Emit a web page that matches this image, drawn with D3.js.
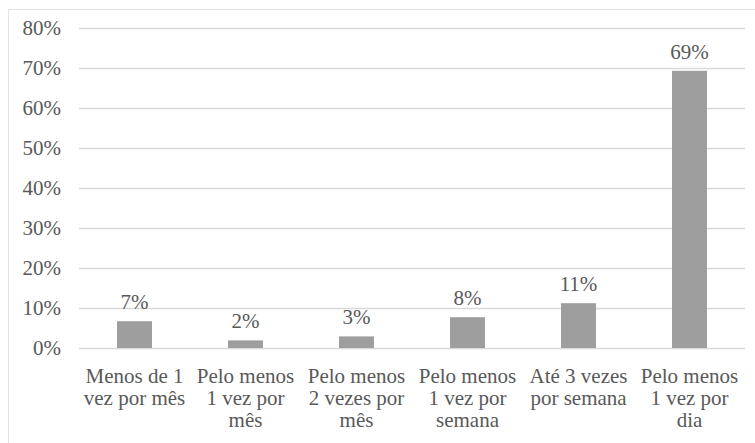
<!DOCTYPE html>
<html>
<head>
<meta charset="utf-8">
<script src="https://cdn.jsdelivr.net/npm/d3@7"></script>
<style>
  body { margin: 0; background: #fff; }
</style>
</head>
<body>
<div id="chart"></div>
<script>
// categorias (quebra de linha com \n, como no gráfico original)
const categories = [
  "Menos de 1\nvez por mês",
  "Pelo menos\n1 vez por\nmês",
  "Pelo menos\n2 vezes por\nmês",
  "Pelo menos\n1 vez por\nsemana",
  "Até 3 vezes\npor semana",
  "Pelo menos\n1 vez por\ndia"
];
const values = [6.7, 1.9, 2.9, 7.7, 11.2, 69.3];
const valueLabels = ["7%", "2%", "3%", "8%", "11%", "69%"];
const yTicks = [0, 10, 20, 30, 40, 50, 60, 70, 80];

const FONT = "'Liberation Serif', 'Times New Roman', serif";
const TXT = "#595959";
const width = 755, height = 443;
const margin = {top: 28, right: 10, bottom: 95, left: 79};

const svg = d3.select("#chart").append("svg")
    .attr("width", width)
    .attr("height", height)
    .style("font-family", FONT);

// moldura clara do gráfico
svg.append("rect")
    .attr("x", 8.5).attr("y", 9.5)
    .attr("width", width).attr("height", height)
    .style("fill", "none")
    .style("stroke", "#e3e3e3");

const x = d3.scaleBand()
    .domain(d3.range(categories.length))
    .range([margin.left, width - margin.right])
    .paddingInner(0.685)
    .paddingOuter(0.3425);

const y = d3.scaleLinear()
    .domain([0, 80])
    .range([height - margin.bottom, margin.top]);

// linhas de grade
svg.append("g")
  .selectAll("line")
  .data(yTicks)
  .join("line")
    .attr("x1", margin.left)
    .attr("x2", width - margin.right)
    .attr("y1", d => Math.round(y(d)) + 0.5)
    .attr("y2", d => Math.round(y(d)) + 0.5)
    .style("stroke", "#d9d9d9")
    .style("stroke-width", 1.3);

// eixo Y (só os rótulos)
const yAxis = d3.axisLeft(y)
    .tickValues(yTicks)
    .tickFormat(d => d + "%")
    .tickSize(0)
    .tickPadding(18);

svg.append("g")
    .attr("transform", "translate(" + margin.left + ",0)")
    .call(yAxis)
    .attr("font-family", null)
    .attr("font-size", null)
    .call(g => g.select(".domain").remove())
    .call(g => g.selectAll("text")
        .style("font-family", FONT)
        .style("font-size", "21px")
        .style("fill", TXT));

// barras
svg.append("g")
  .selectAll("rect")
  .data(values)
  .join("rect")
    .attr("x", (d, i) => x(i))
    .attr("width", x.bandwidth())
    .attr("y", d => y(d))
    .attr("height", d => y(0) - y(d))
    .style("fill", "#9e9e9e");

// rótulos de valor
svg.append("g")
  .selectAll("text")
  .data(values)
  .join("text")
    .attr("x", (d, i) => x(i) + x.bandwidth() / 2)
    .attr("y", d => y(d) - 12)
    .attr("text-anchor", "middle")
    .style("font-family", FONT)
    .style("font-size", "21px")
    .style("fill", TXT)
    .text((d, i) => valueLabels[i]);

// rótulos das categorias
const catG = svg.append("g")
  .selectAll("text")
  .data(categories)
  .join("text")
    .attr("text-anchor", "middle")
    .style("font-family", FONT)
    .style("font-size", "21px")
    .style("fill", TXT);

catG.each(function(d, i) {
  const lines = d.split("\n");
  d3.select(this).selectAll("tspan")
    .data(lines)
    .join("tspan")
      .attr("x", x(i) + x.bandwidth() / 2)
      .attr("y", (l, j) => y(0) + 35 + j * 22)
      .text(l => l);
});
</script>
</body>
</html>
